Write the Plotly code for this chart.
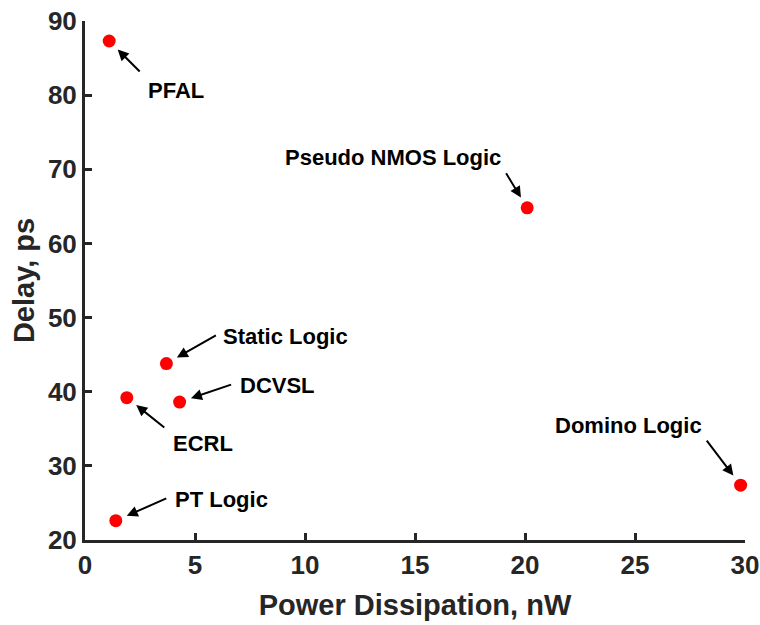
import plotly.graph_objects as go

# Logic families: power dissipation (nW) vs delay (ps)
families = ["PFAL", "Pseudo NMOS Logic", "Static Logic", "DCVSL", "ECRL", "PT Logic", "Domino Logic"]
power_nw = [1.1, 20.1, 3.7, 4.3, 1.9, 1.4, 29.8]
delay_ps = [87.3, 64.8, 43.8, 38.6, 39.2, 22.6, 27.4]

x_ticks = [0, 5, 10, 15, 20, 25, 30]
y_ticks = [20, 30, 40, 50, 60, 70, 80, 90]

# label placement per family: arrow tail offset (px) and text offset (px)
arrow_tail = {
    "PFAL": (32, 32),
    "Pseudo NMOS Logic": (-22, -36),
    "Static Logic": (51, -29),
    "DCVSL": (53, -18),
    "ECRL": (39, 31),
    "PT Logic": (52, -23),
    "Domino Logic": (-35, -46),
}
text_shift = {
    "PFAL": (37, -49, "left"),
    "Pseudo NMOS Logic": (-244, 50, "left"),
    "Static Logic": (55, 27, "left"),
    "DCVSL": (58, 17, "left"),
    "ECRL": (44, -46, "left"),
    "PT Logic": (57, 21, "left"),
    "Domino Logic": (-112, 60, "center"),
}

FONT = "Liberation Sans, Arial, sans-serif"
AXIS_COLOR = "#262626"

fig = go.Figure()
fig.add_trace(go.Scatter(
    x=power_nw, y=delay_ps, mode="markers",
    marker=dict(color="#ff0000", size=13, line=dict(width=0)),
    cliponaxis=False, showlegend=False, hoverinfo="x+y",
))

annotations = []
for name, px, py in zip(families, power_nw, delay_ps):
    ax, ay = arrow_tail[name]
    annotations.append(dict(
        x=px, y=py, xref="x", yref="y", text="", showarrow=True,
        ax=ax, ay=ay, arrowhead=2, arrowsize=1.1, arrowwidth=2,
        arrowcolor="black", standoff=12,
    ))
    dx, dy, anchor = text_shift[name]
    annotations.append(dict(
        x=px, y=py, xref="x", yref="y", text=f"<b>{name}</b>", showarrow=False,
        xanchor=anchor, yanchor="middle", xshift=dx, yshift=dy,
        font=dict(family=FONT, size=22, color="black"),
    ))

axis_common = dict(
    showline=True, linecolor=AXIS_COLOR, linewidth=3, mirror=False,
    ticks="inside", ticklen=7, tickwidth=3, tickcolor=AXIS_COLOR,
    showgrid=False, zeroline=False, automargin=False,
    tickfont=dict(family=FONT, size=26, color=AXIS_COLOR),
)

fig.update_layout(
    width=760, height=625,
    margin=dict(l=85, r=15, t=21, b=85),
    paper_bgcolor="white", plot_bgcolor="white",
    xaxis=dict(
        range=[0, 30], tickvals=x_ticks, ticktext=[f"<b>{v}</b>" for v in x_ticks],
        title=dict(text="<b>Power Dissipation, nW</b>", standoff=16,
                   font=dict(family=FONT, size=29, color=AXIS_COLOR)),
        **axis_common,
    ),
    yaxis=dict(
        range=[20, 90], tickvals=y_ticks, ticktext=[f"<b>{v}</b>" for v in y_ticks],
        title=dict(text="<b>Delay, ps</b>", standoff=5,
                   font=dict(family=FONT, size=29, color=AXIS_COLOR)),
        **axis_common,
    ),
    annotations=annotations,
)

fig.write_html("out.html")
